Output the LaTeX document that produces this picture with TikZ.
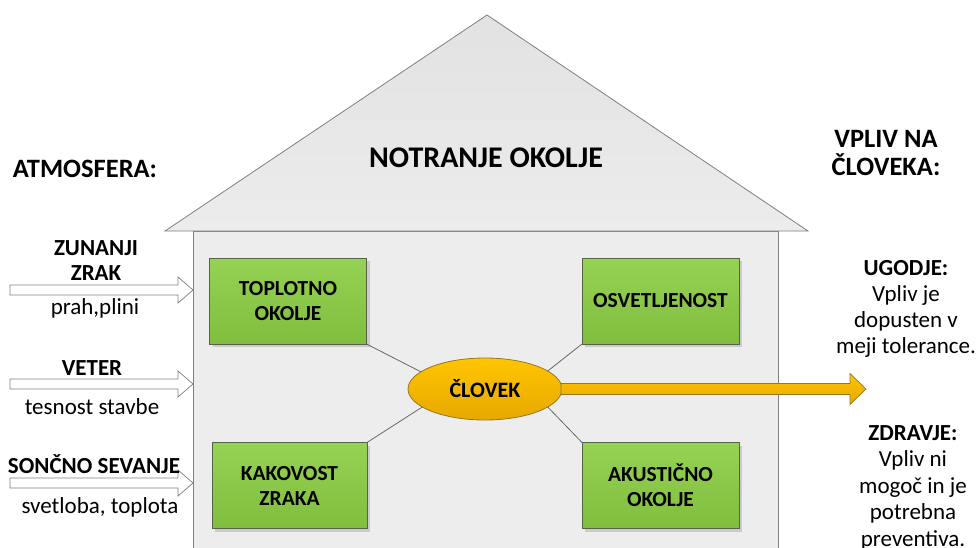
\documentclass[tikz,border=0pt]{standalone}
\usepackage{fontspec}
\setmainfont{Carlito}
\usetikzlibrary{shapes.geometric,shadows,calc}
\definecolor{wallfill}{RGB}{237,237,237}
\definecolor{rooftop}{RGB}{226,226,226}
\definecolor{roofbot}{RGB}{236,236,236}
\definecolor{linegray}{RGB}{105,105,105}
\definecolor{greentop}{RGB}{150,210,84}
\definecolor{greenbot}{RGB}{128,190,62}
\definecolor{boxline}{RGB}{85,100,70}
\definecolor{goldtop}{RGB}{255,197,0}
\definecolor{goldbot}{RGB}{232,168,0}
\definecolor{goldline}{RGB}{150,118,40}
\definecolor{arrowline}{RGB}{128,128,128}
\begin{document}
\begin{tikzpicture}[x=1pt,y=-1pt,
  every node/.style={inner sep=0pt,outer sep=0pt},
  txt/.style={font=\fontsize{23}{26.5}\selectfont,align=center,anchor=base},
  btxt/.style={txt,font=\bfseries\fontsize{23}{27}\selectfont},
  head/.style={txt,font=\bfseries\fontsize{26.5}{28}\selectfont},
  greenbox/.style={draw=boxline,line width=0.8pt,top color=greentop,bottom color=greenbot,
    minimum width=157,minimum height=86,align=center,
    font=\bfseries\fontsize{21.5}{25}\selectfont,
    drop shadow={opacity=0.25,shadow xshift=3pt,shadow yshift=-3pt,fill=black!60}},
  person/.style={ellipse,draw=goldline,line width=0.8pt,top color=goldtop,bottom color=goldbot,
    minimum width=154,minimum height=62,font=\bfseries\fontsize{22}{25}\selectfont},
  link/.style={draw=linegray,line width=0.8pt},
  inarrow/.style={draw=arrowline,line width=0.7pt,fill=white},
  outarrow/.style={draw=goldline,line width=0.7pt,top color=goldtop,bottom color=goldbot},
]
\clip (0,0) rectangle (977,547);
\fill[white] (0,0) rectangle (977,547);

% house
\draw[draw=arrowline,line width=0.8pt,fill=wallfill] (193,231) rectangle (778,560);
\draw[draw=arrowline,line width=0.8pt,top color=rooftop,bottom color=roofbot] (165,231) -- (487,15) -- (808,231) -- cycle;
\node[txt,font=\bfseries\fontsize{30}{32}\selectfont] (title) at (486,167) {NOTRANJE OKOLJE};

% side headings
\node[head] (atm) at (85,177) {ATMOSFERA:};
\node[head] (vpliv) at (886,175) {VPLIV NA\\ČLOVEKA:};

% boxes
\node[greenbox] (top) at (288,301) {TOPLOTNO\\OKOLJE};
\node[greenbox] (osv) at (660.5,301) {OSVETLJENOST};
\node[greenbox,minimum width=155] (kak) at (289.5,485.5) {KAKOVOST\\ZRAKA};
\node[greenbox] (aku) at (660.5,485.5) {AKUSTIČNO\\OKOLJE};

% person
\node[person] (cl) at (485,389) {ČLOVEK};
\draw[link] (top.south east) -- (cl.165);
\draw[link] (osv.south west) -- (cl.16);
\draw[link] (kak.north east) -- (cl.196);
\draw[link] (aku.north west) -- (cl.344);

% outgoing arrow
\coordinate (tip) at (866,389);
\draw[outarrow] ($(cl.east)+(-1,-5.5)$) -- ($(tip)+(-16,-5.5)$) -- ($(tip)+(-16,-15.5)$) -- (tip)
  -- ($(tip)+(-16,15.5)$) -- ($(tip)+(-16,5.5)$) -- ($(cl.east)+(-1,5.5)$) -- cycle;

% incoming arrows
\foreach \y in {290,384,483}{
  \draw[inarrow] (10,\y-5) -- (178,\y-5) -- (178,\y-13) -- (193,\y) -- (178,\y+13) -- (178,\y+5) -- (10,\y+5) -- cycle;
}

% left labels
\node[btxt] (zun) at (96,255) {ZUNANJI};
\node[btxt] (zrak) at (96,280) {ZRAK};
\node[txt] (prah) at (95,314) {prah,plini};
\node[btxt] (vet) at (92,375) {VETER};
\node[txt] (tes) at (92,414) {tesnost stavbe};
\node[btxt] (son) at (94,473) {SONČNO SEVANJE};
\node[txt] (svet) at (100,513) {svetloba, toplota};

% right labels
\node[txt,font=\fontsize{23}{26}\selectfont] (ugo) at (906,353) {\textbf{UGODJE:}\\Vpliv je\\dopusten v\\meji tolerance.};
\node[txt,font=\fontsize{23}{26.5}\selectfont] (zdr) at (913,546) {\textbf{ZDRAVJE:}\\Vpliv ni\\mogoč in je\\potrebna\\preventiva.};
\end{tikzpicture}
\end{document}
